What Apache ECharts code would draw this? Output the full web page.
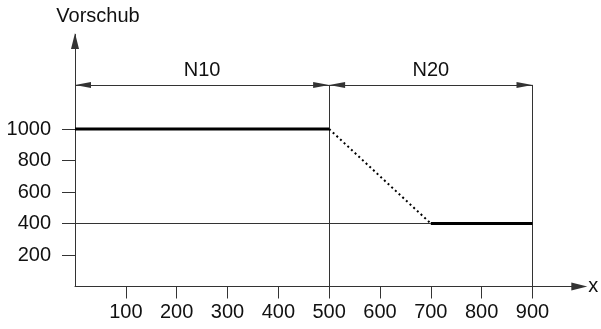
<!DOCTYPE html>
<html>
<head>
<meta charset="utf-8">
<script src="https://cdn.jsdelivr.net/npm/echarts@6/dist/echarts.min.js"></script>
<style>
html,body{margin:0;padding:0;background:#fff;}
#main{width:601px;height:329px;}
</style>
</head>
<body>
<div id="main"></div>
<script>
// ---- data ----
const xTickValues = [100, 200, 300, 400, 500, 600, 700, 800, 900];
const yTickValues = [200, 400, 600, 800, 1000];
const segN10 = [[0, 1000], [500, 1000]];
const segTransition = [[500, 1000], [700, 400]];
const segN20 = [[700, 400], [900, 400]];
const refLine400 = [[0, 400], [700, 400]];
const blockBounds = [0, 500, 900];
const blockNames = ['N10', 'N20'];
const dimLevel = 1280;
const xAxisMax = 1000;
const yAxisMax = 1600;

const FONT = '"Liberation Sans", Arial, sans-serif';
const TXT = '#111';
const AX = '#333';

const chart = echarts.init(document.getElementById('main'), null, {renderer: 'canvas'});

const boundaryLines = blockBounds.slice(1).map(v => [{coord: [v, 0]}, {coord: [v, dimLevel]}]);
const dimLines = blockNames.map((n, i) => [
  {coord: [blockBounds[i], dimLevel], name: n},
  {coord: [blockBounds[i + 1], dimLevel]}
]);

const option = {
  animation: false,
  grid: {left: 75, right: 17.7, top: 34.5, bottom: 42.5, containLabel: false, outerBoundsMode: 'none'},
  xAxis: {
    type: 'value', min: 0, max: xAxisMax,
    name: 'x', nameLocation: 'end', nameGap: 5,
    nameTextStyle: {fontFamily: FONT, fontSize: 20, color: TXT, padding: [6, 0, 0, 0]},
    axisLine: {show: true, onZero: false, lineStyle: {color: AX, width: 1},
      symbol: ['none', 'triangle'], symbolSize: [8, 16], symbolOffset: [0, -4]},
    axisTick: {show: true, length: 12, inside: false, customValues: xTickValues, lineStyle: {color: AX}},
    axisLabel: {show: true, margin: 16, customValues: xTickValues, formatter: v => String(v),
      fontFamily: FONT, fontSize: 20, color: TXT},
    splitLine: {show: false}
  },
  yAxis: {
    type: 'value', min: 0, max: yAxisMax,
    name: 'Vorschub', nameLocation: 'end', nameGap: 8,
    nameTextStyle: {fontFamily: FONT, fontSize: 20, color: TXT, padding: [0, 0, 0, 46]},
    axisLine: {show: true, onZero: false, lineStyle: {color: AX, width: 1},
      symbol: ['none', 'triangle'], symbolSize: [8, 16], symbolOffset: [0, -6.5]},
    axisTick: {show: true, length: 13, inside: false, customValues: yTickValues, lineStyle: {color: AX}},
    axisLabel: {show: true, margin: 24, customValues: yTickValues, formatter: v => String(v),
      fontFamily: FONT, fontSize: 20, color: TXT},
    splitLine: {show: false}
  },
  series: [
    {
      type: 'line', data: refLine400, symbol: 'none', z: 2,
      lineStyle: {color: AX, width: 1},
      markLine: {
        silent: true, symbol: ['none', 'none'],
        lineStyle: {color: AX, width: 1, type: 'solid'},
        label: {show: false},
        data: boundaryLines
      }
    },
    {
      type: 'line', data: [], symbol: 'none', z: 3,
      markLine: {
        silent: true,
        symbol: ['triangle', 'triangle'], symbolSize: [6, 16],
        symbolOffset: [[0, 8], [0, 8]],
        lineStyle: {color: AX, width: 1, type: 'solid'},
        label: {show: true, position: 'insideMiddleTop', distance: 4, formatter: p => p.name,
          fontFamily: FONT, fontSize: 20, color: TXT},
        data: dimLines
      }
    },
    {type: 'line', data: segN10, symbol: 'none', z: 5, lineStyle: {color: '#000', width: 3}},
    {type: 'line', data: segTransition, symbol: 'none', z: 5, lineStyle: {color: '#000', width: 2, type: [2, 3]}},
    {type: 'line', data: segN20, symbol: 'none', z: 5, lineStyle: {color: '#000', width: 3}}
  ]
};
chart.setOption(option);
</script>
</body>
</html>
